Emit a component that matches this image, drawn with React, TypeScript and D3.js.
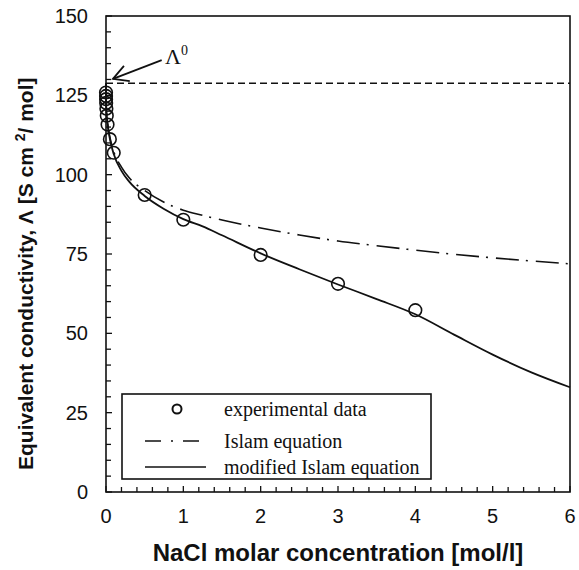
import React from "react";
import * as d3 from "d3";

// experimental data
const expX = [0.0001, 0.0005, 0.001, 0.002, 0.005, 0.01, 0.02, 0.05, 0.1, 0.5, 1, 2, 3, 4];
const expY = [125.9, 124.8, 123.8, 122.6, 120.8, 118.6, 115.8, 111.2, 106.9, 93.6, 85.8, 74.7, 65.6, 57.3];

// Islam equation (dash-dot)
const islamX = [0, 0.0005, 0.001, 0.005, 0.01, 0.02, 0.05, 0.1, 0.2, 0.3, 0.5, 0.75, 1, 1.25, 1.5, 2, 2.5, 3, 3.5, 4, 4.5, 5, 5.5, 6];
const islamY = [128.8, 125.2, 124.2, 121.2, 119.2, 116.5, 111.9, 107.3, 102.4, 99.0, 95.0, 91.3, 88.8, 87.2, 85.7, 83.2, 81.0, 79.1, 77.6, 76.2, 74.9, 73.8, 72.8, 71.9];

// modified Islam equation (solid)
const modX = [0, 0.0005, 0.001, 0.005, 0.01, 0.02, 0.05, 0.1, 0.2, 0.3, 0.5, 0.75, 1, 1.25, 1.5, 2, 2.5, 3, 3.5, 4, 4.5, 5, 5.5, 6];
const modY = [128.8, 125.1, 124.0, 120.9, 118.8, 116.0, 111.3, 106.5, 101.2, 97.8, 93.3, 89.2, 86.0, 83.7, 80.9, 75.2, 70.2, 65.4, 60.8, 56.0, 49.6, 43.3, 37.7, 33.0];

const lambda0 = 128.8;

const xTickLabels = [0, 1, 2, 3, 4, 5, 6];
const yTickLabels = [0, 25, 50, 75, 100, 125, 150];

const legendLabels = ["experimental data", "Islam equation", "modified Islam equation"];

const W = 579;
const H = 570;
const left = 106;
const right = 570;
const top = 16;
const bottom = 492;

const sans = "'Liberation Sans', Arial, Helvetica, sans-serif";
const serif = "'Liberation Serif', 'Times New Roman', Times, serif";

export default function App() {
  const x = d3.scaleLinear().domain([0, 6]).range([left, right]);
  const y = d3.scaleLinear().domain([0, 150]).range([bottom, top]);

  const line = d3
    .line<[number, number]>()
    .x((d) => x(d[0]))
    .y((d) => y(d[1]))
    .curve(d3.curveMonotoneX);

  const islamPath = line(islamX.map((v, i) => [v, islamY[i]]) as [number, number][]) || "";
  const modPath = line(modX.map((v, i) => [v, modY[i]]) as [number, number][]) || "";

  const xMinor = d3.range(0, 30 + 1).map((i) => i * 0.2);
  const yMinor = d3.range(0, 30 + 1).map((i) => i * 5);

  // arrow in data coordinates
  const tail: [number, number] = [0.72, 136.1];
  const tip: [number, number] = [0.09, 130.2];
  const tx = x(tip[0]);
  const ty = y(tip[1]);
  const sx = x(tail[0]);
  const sy = y(tail[1]);
  const ang = Math.atan2(sy - ty, sx - tx);
  const hl = 17;
  const spread = 0.5;
  const h1 = [tx + hl * Math.cos(ang + spread), ty + hl * Math.sin(ang + spread)];
  const h2 = [tx + hl * Math.cos(ang - spread), ty + hl * Math.sin(ang - spread)];

  // legend
  const lgX = 122;
  const lgY = 394;
  const lgW = 309;
  const lgH = 85;
  const rows = [409, 441, 467];
  const baselines = [415.5, 447.5, 473.5];

  return (
    <svg
      width={W}
      height={H}
      style={{ position: "absolute", left: 0, top: 0, background: "#fff" }}
    >
      <rect x={0} y={0} width={W} height={H} fill="#fff" />

      {/* Lambda0 dashed line */}
      <line
        x1={x(0)}
        x2={x(6)}
        y1={y(lambda0)}
        y2={y(lambda0)}
        stroke="#111"
        strokeWidth={1.5}
        strokeDasharray="7,4"
      />

      {/* curves */}
      <path d={islamPath} fill="none" stroke="#111" strokeWidth={1.6} strokeDasharray="23,7,2,8" />
      <path d={modPath} fill="none" stroke="#111" strokeWidth={1.8} />

      {/* data points */}
      {expX.map((v, i) => (
        <circle key={i} cx={x(v)} cy={y(expY[i])} r={6.3} fill="none" stroke="#111" strokeWidth={1.6} />
      ))}

      {/* axes box */}
      <rect x={left} y={top} width={right - left} height={bottom - top} fill="none" stroke="#111" strokeWidth={1.6} />

      {/* ticks */}
      {xMinor.map((v, i) => (
        <line key={"xt" + i} x1={x(v)} x2={x(v)} y1={bottom} y2={bottom - (i % 5 === 0 ? 6 : 5)} stroke="#111" strokeWidth={1.3} />
      ))}
      {yMinor.map((v, i) => (
        <line key={"yt" + i} x1={left} x2={left + (i % 5 === 0 ? 6 : 5)} y1={y(v)} y2={y(v)} stroke="#111" strokeWidth={1.3} />
      ))}

      {/* tick labels */}
      {xTickLabels.map((v) => (
        <text key={"xl" + v} x={x(v)} y={523} textAnchor="middle" fontFamily={sans} fontSize={20} fill="#111">
          {v}
        </text>
      ))}
      {yTickLabels.map((v) => (
        <text key={"yl" + v} x={88} y={y(v)} dy="0.35em" textAnchor="end" fontFamily={sans} fontSize={20} fill="#111">
          {v}
        </text>
      ))}

      {/* axis titles */}
      <text x={338} y={561} textAnchor="middle" fontFamily={sans} fontWeight="bold" fontSize={24} fill="#111">
        NaCl molar concentration [mol/l]
      </text>
      <text
        transform={`translate(33,${470}) rotate(-90)`}
        textAnchor="start"
        fontFamily={sans}
        fontWeight="bold"
        fontSize={21}
        fill="#111"
      >
        Equivalent conductivity, Λ [S cm <tspan fontSize={14} dy={-8}>2</tspan>
        <tspan dy={8}>/ mol]</tspan>
      </text>

      {/* Lambda0 annotation */}
      <line x1={sx} y1={sy} x2={tx} y2={ty} stroke="#111" strokeWidth={1.8} />
      <polyline
        points={`${h1[0]},${h1[1]} ${tx},${ty} ${h2[0]},${h2[1]}`}
        fill="none"
        stroke="#111"
        strokeWidth={1.8}
      />
      <text x={165} y={64} fontFamily={serif} fontSize={22} fill="#111">
        Λ<tspan fontSize={14} dy={-9}>0</tspan>
      </text>

      {/* legend */}
      <rect x={lgX} y={lgY} width={lgW} height={lgH} fill="#fff" stroke="#111" strokeWidth={1.6} />
      <circle cx={177} cy={rows[0]} r={4.5} fill="none" stroke="#111" strokeWidth={2} />
      <line x1={145} x2={206} y1={rows[1]} y2={rows[1]} stroke="#111" strokeWidth={1.6} strokeDasharray="16,10,2,10" />
      <line x1={145} x2={206} y1={rows[2]} y2={rows[2]} stroke="#111" strokeWidth={1.6} />
      {legendLabels.map((t, i) => (
        <text key={t} x={224} y={baselines[i]} fontFamily={serif} fontSize={20} fill="#111">
          {t}
        </text>
      ))}
    </svg>
  );
}
